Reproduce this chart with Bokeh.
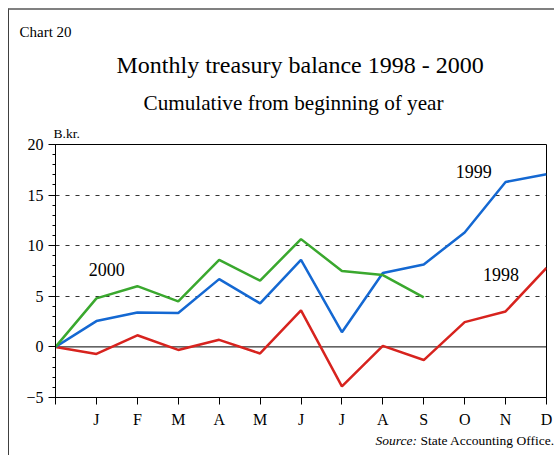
from bokeh.plotting import figure
from bokeh.models import Range1d, FixedTicker, Span, Label, Title
from bokeh.embed import file_html
from bokeh.resources import INLINE

# ---- data ----
month_labels = ["", "J", "F", "M", "A", "M", "J", "J", "A", "S", "O", "N", "D"]
x_pos = list(range(len(month_labels)))
y1998 = [0, -0.7, 1.15, -0.3, 0.7, -0.65, 3.6, -3.9, 0.1, -1.3, 2.45, 3.5, 7.8]
y1999 = [0, 2.55, 3.4, 3.35, 6.7, 4.3, 8.6, 1.45, 7.3, 8.15, 11.3, 16.3, 17.05]
y2000 = [0, 4.8, 6.0, 4.5, 8.6, 6.55, 10.65, 7.5, 7.1, 4.9]
y_ticks = [-5, 0, 5, 10, 15, 20]
grid_ticks = [5, 10, 15]

FONT = "Liberation Serif"

p = figure(width=546, height=447, output_backend="svg", toolbar_location=None,
           x_range=Range1d(0, 12), y_range=Range1d(-5, 20),
           min_border_left=46, min_border_right=9, min_border_top=134, min_border_bottom=60)
p.styles = {"margin-left": "8px", "margin-top": "8px",
            "border-top": "2px solid #808080", "border-left": "1px solid #404040"}

p.outline_line_color = "black"
p.outline_line_width = 1
p.background_fill_color = "white"
p.border_fill_color = "white"

# axes
yax = p.yaxis[0]
yax.ticker = FixedTicker(ticks=y_ticks, minor_ticks=list(range(-5, 21)))
yax.major_tick_out = 7
yax.major_tick_in = 0
yax.minor_tick_out = 3
yax.minor_tick_in = 0
yax.major_label_standoff = 5
yax.major_label_text_font = FONT
yax.major_label_text_font_size = "16px"
yax.major_label_text_color = "black"
yax.axis_line_color = "black"
yax.major_tick_line_color = "black"
yax.minor_tick_line_color = "black"

xax = p.xaxis[0]
xax.ticker = FixedTicker(ticks=x_pos)
xax.major_label_overrides = {i: s for i, s in zip(x_pos, month_labels)}
xax.major_tick_out = 7
xax.major_tick_in = 0
xax.minor_tick_line_color = None
xax.major_label_standoff = 6
xax.major_label_text_font = FONT
xax.major_label_text_font_size = "16px"
xax.major_label_text_color = "black"
xax.axis_line_color = "black"
xax.major_tick_line_color = "black"

p.xgrid.grid_line_color = None
p.ygrid.ticker = FixedTicker(ticks=grid_ticks)
p.ygrid.grid_line_color = "#333333"
p.ygrid.grid_line_dash = "4 6"
p.ygrid.grid_line_width = 1

p.add_layout(Span(location=0, dimension="width", line_color="black", line_width=1,
                  level="underlay"))

# lines
p.line(x_pos, y1998, line_color="#d7231e", line_width=2.5)
p.line(x_pos, y1999, line_color="#1468d2", line_width=2.5)
p.line(x_pos[:len(y2000)], y2000, line_color="#3aa82e", line_width=2.5)

# series labels
for txt, xx, yy in [("2000", 0.81, 7.63), ("1999", 9.78, 17.29), ("1998", 10.45, 7.15)]:
    p.add_layout(Label(x=xx, y=yy, text=txt, text_font=FONT, text_font_size="18px",
                       text_align="left", text_baseline="middle", text_color="black"))

# titles (first added sits nearest the frame)
def title(text, size, offset, standoff, style="normal", valign="bottom"):
    return Title(text=text, text_font=FONT, text_font_size=size, text_font_style=style,
                 text_color="black", align="left", offset=offset, standoff=standoff,
                 vertical_align=valign)

p.add_layout(title("B.kr.", "13.5px", -2, 8), "above")
p.add_layout(title("Cumulative from beginning of year", "21.2px", 88, 10), "above")
p.add_layout(title("Monthly treasury balance 1998 - 2000", "24px", 61, 11), "above")
p.add_layout(title("Chart 20", "15px", -36, 10), "above")

# source line: two titles sharing one row (second pulled back with a negative standoff)
p.add_layout(title("State Accounting Office.", "13.5px", 365, 1), "below")
p.add_layout(title("Source:", "13.5px", 320, -30.9, style="italic", valign="top"), "below")

open("out.html", "w").write(file_html(p, INLINE))
